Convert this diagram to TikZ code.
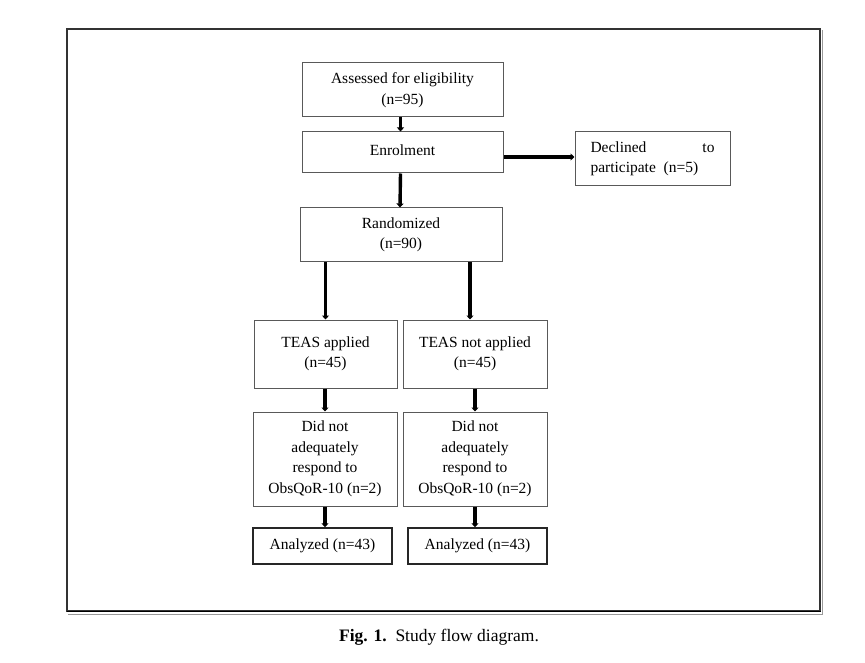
\documentclass[tikz,border=0pt]{standalone}
\usepackage{fontspec}
\setmainfont{Liberation Serif}
\usetikzlibrary{arrows.meta,calc}
\begin{document}
\begin{tikzpicture}[x=1pt,y=-1pt,
  box/.style={draw=black!65,line width=1pt,rectangle,align=center,inner sep=2pt,
    font=\fontsize{15.5}{20.5}\selectfont},
  abox/.style={box,draw=black!85,line width=1.5pt},
  arr/.style={line width=3.4pt,-{Triangle[length=4pt,width=7pt]}},
  frame/.style={draw=black!80,line width=1.6pt}]
\useasboundingbox (0,0) rectangle (865,663);
\draw[frame] (67,29) rectangle (820,611);
\draw[black,line width=1.6pt] (67,611.5) -- (821,611.5);
\draw[black!40,line width=1pt] (68,614) -- (822,614) -- (822,30);
\node[box,minimum width=201pt,minimum height=54pt] (assess) at (402.5,90) {Assessed for eligibility\\(n=95)};
\node[box,minimum width=201pt,minimum height=41pt] (enrol) at (402.5,152.5) {\raisebox{5pt}{Enrolment}};
\node[box,minimum width=155pt,minimum height=54pt,align=left] (decl) at (652.5,159) {\makebox[124pt][s]{Declined\hfill to}\\participate~~(n=5)};
\node[box,minimum width=202pt,minimum height=54pt] (rand) at (401,235) {Randomized\\(n=90)};
\node[box,minimum width=143pt,minimum height=68pt] (teasA) at (325.5,354) {TEAS applied\\(n=45)};
\node[box,minimum width=144pt,minimum height=68pt] (teasB) at (475,354) {TEAS not applied\\(n=45)};
\node[box,minimum width=144pt,minimum height=94pt] (didA) at (325,459) {Did not\\adequately\\respond to\\ObsQoR-10 (n=2)};
\node[box,minimum width=144pt,minimum height=94pt] (didB) at (475,459) {Did not\\adequately\\respond to\\ObsQoR-10 (n=2)};
\node[abox,minimum width=139pt,minimum height=36pt] (anA) at (322.5,546) {Analyzed (n=43)};
\node[abox,minimum width=139pt,minimum height=36pt] (anB) at (477.5,546) {Analyzed (n=43)};
\node[font=\fontsize{17.5}{20}\selectfont] (cap) at (439,637) {\textbf{Fig. 1.}\ \ Study flow diagram.};
\draw[arr] ([xshift=-2pt]assess.south) -- ([xshift=-2pt]enrol.north);
\draw[arr] (enrol.east |- 0,157) -- (decl.west |- 0,157);
\draw[arr] ([xshift=-2pt]enrol.south) -- ([xshift=-1pt]rand.north);
\draw[arr] (rand.south -| teasA) -- (teasA.north);
\draw[arr] ([xshift=-5pt]rand.south -| teasB) -- ([xshift=-5pt]teasB.north);
\draw[arr] (teasA.south -| didA) -- (didA.north);
\draw[arr] (teasB.south -| didB) -- (didB.north);
\draw[arr] (didA.south) -- (didA.south |- anA.north);
\draw[arr] (didB.south) -- (didB.south |- anB.north);
\end{tikzpicture}
\end{document}
